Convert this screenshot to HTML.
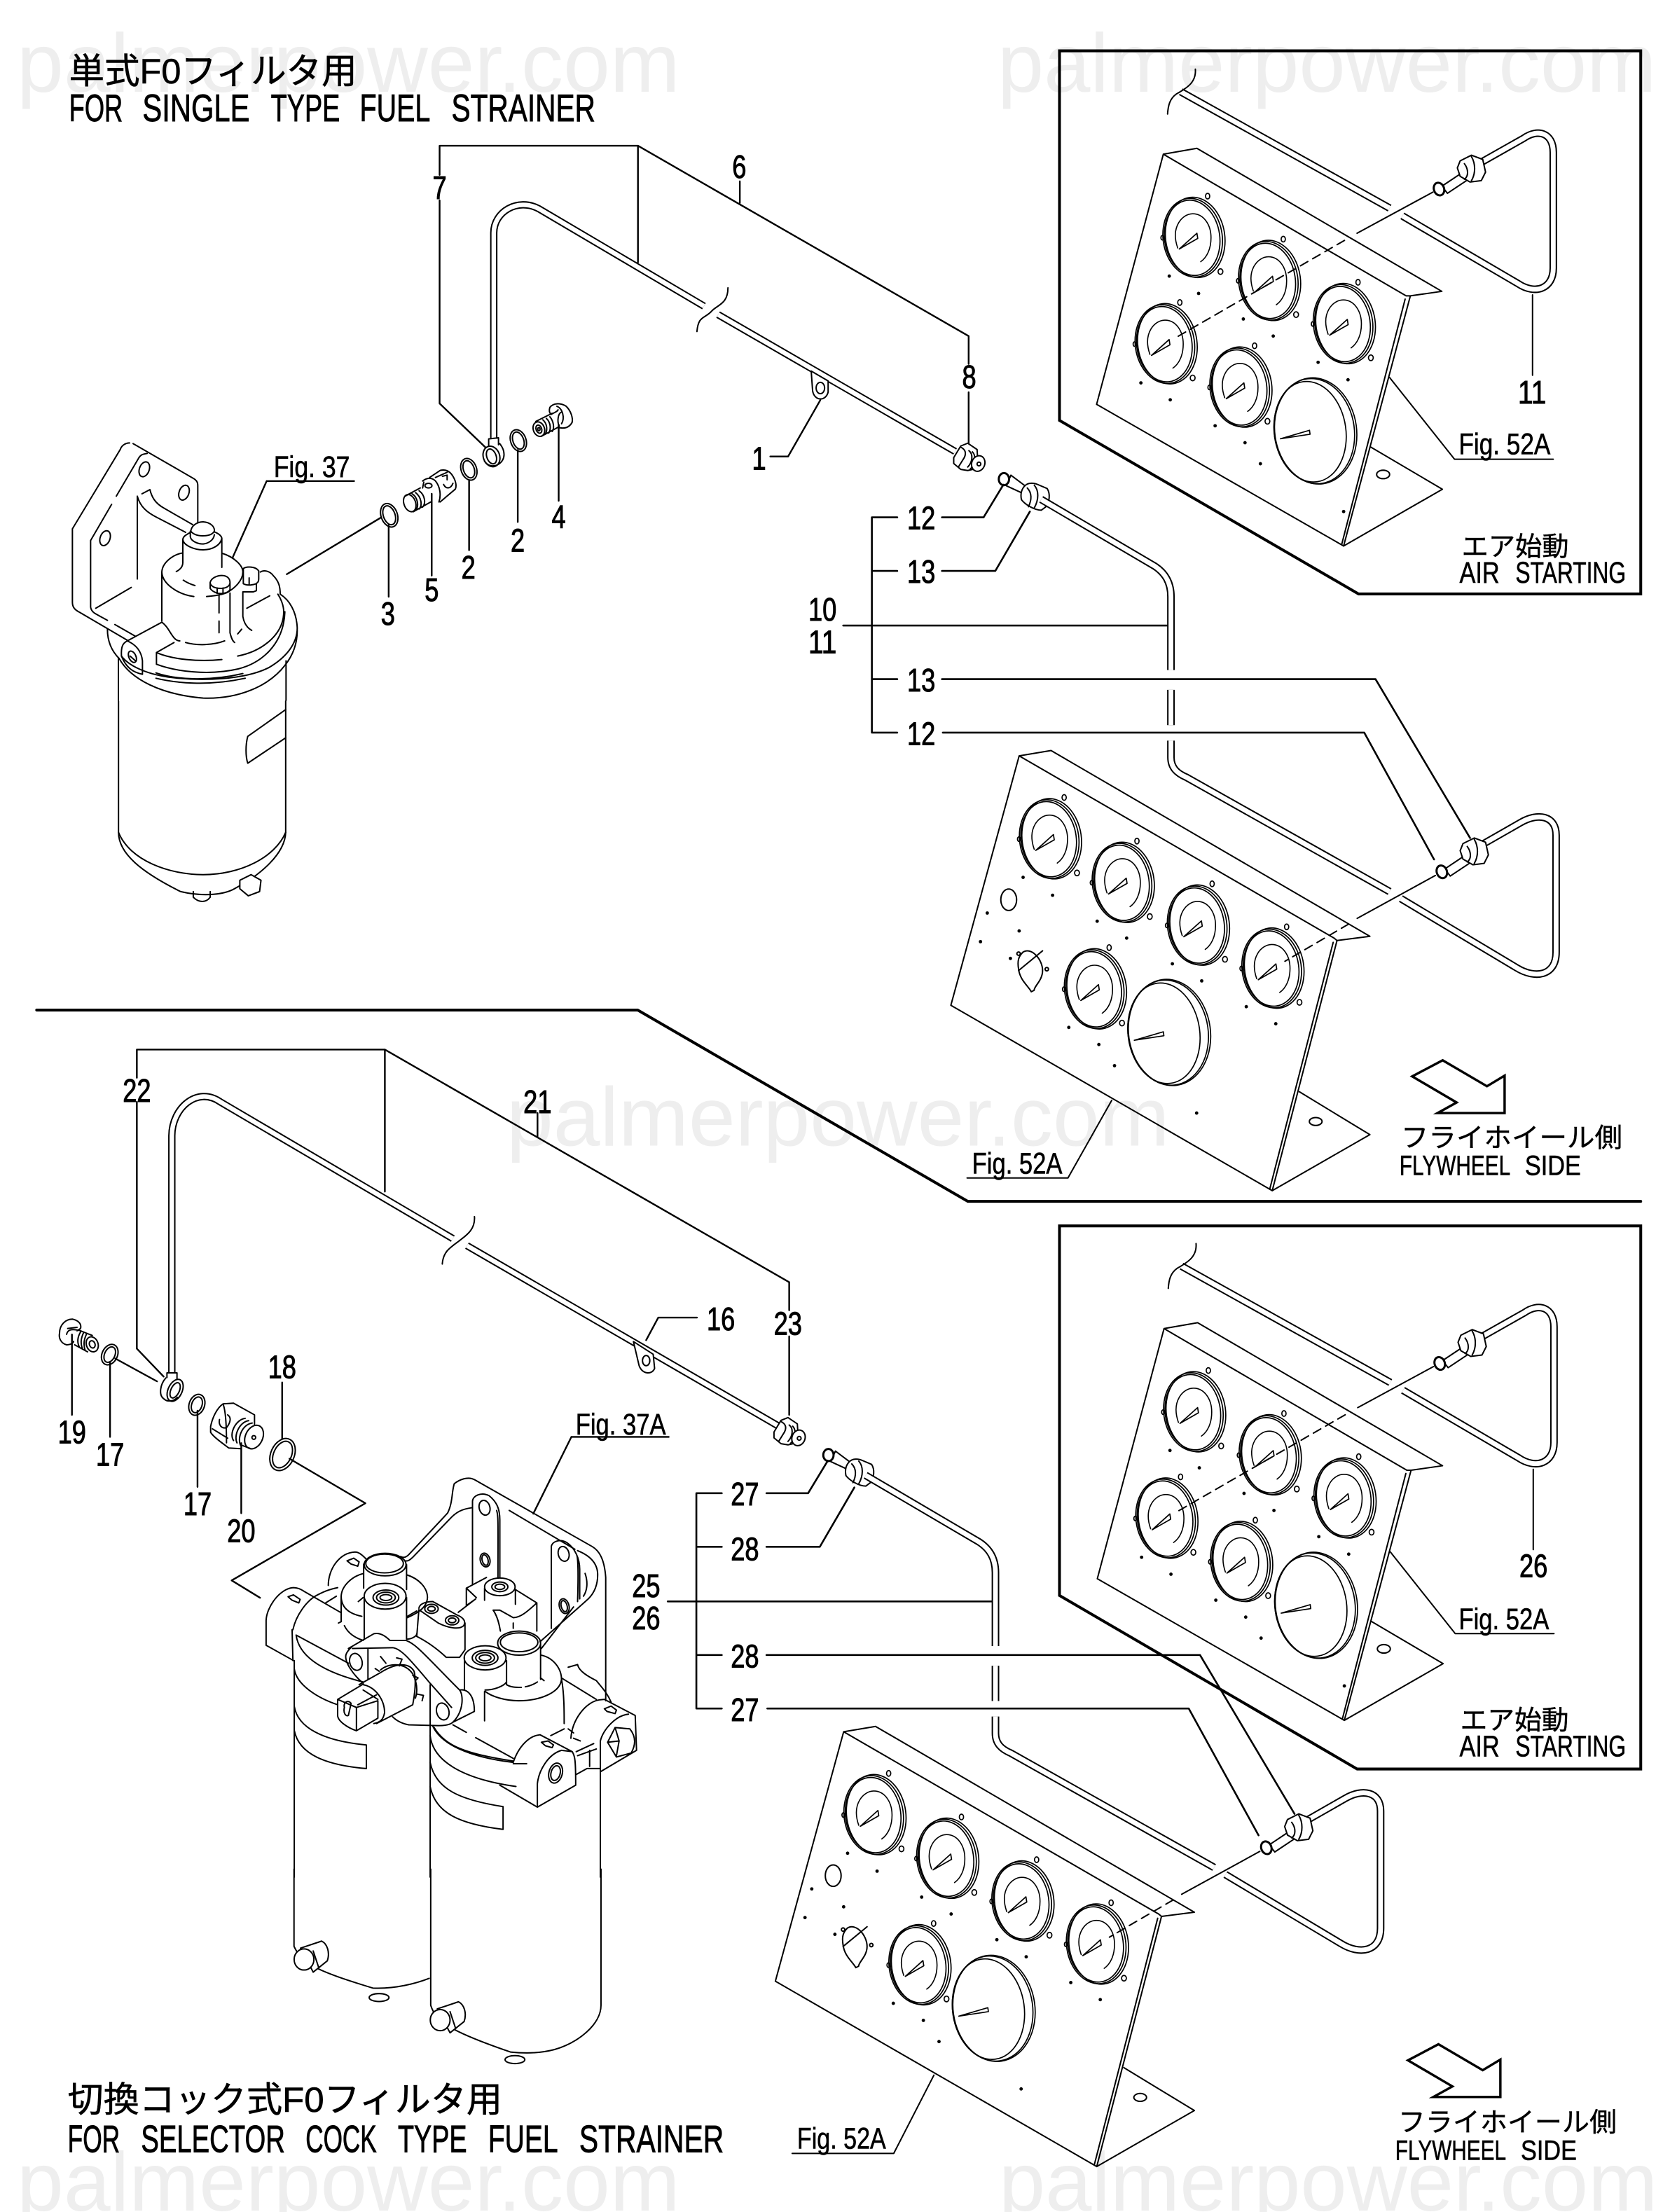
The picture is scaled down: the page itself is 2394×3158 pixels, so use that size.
<!DOCTYPE html>
<html><head><meta charset="utf-8"><title>Fuel strainer parts diagram</title>
<style>
html,body{margin:0;padding:0;background:#fff}
svg{display:block}
text{font-family:"Liberation Sans","Noto Sans CJK JP",sans-serif;fill:#000;stroke:#000;stroke-width:.25}
.n{font-size:23px;text-anchor:middle;stroke-width:.5}
.f{font-size:21px;stroke-width:.3}
.s{font-size:20px;stroke-width:.3}
.t{font-size:27px;stroke-width:.45}
.j{font-size:25px;stroke-width:.3}
.k{font-size:19px;stroke-width:.2}
.w{font-size:59px;fill:#eee;stroke:none}
.a{fill:none;stroke:#000;stroke-width:1;stroke-linejoin:round;stroke-linecap:round}
.h{fill:#fff}
.d{fill:#000;stroke:none}
</style></head><body>
<svg xmlns="http://www.w3.org/2000/svg" width="2394" height="3158" viewBox="0 0 1188.7 1568">
<rect width="1188.7" height="1568" fill="#fff"/>
<text class="w" x="12" y="65" textLength="470" lengthAdjust="spacingAndGlyphs">palmerpower.com</text>
<text class="w" x="707" y="65" textLength="467" lengthAdjust="spacingAndGlyphs">palmerpower.com</text>
<text class="w" x="359" y="812" textLength="470" lengthAdjust="spacingAndGlyphs">palmerpower.com</text>
<text class="w" x="12" y="1567" textLength="470" lengthAdjust="spacingAndGlyphs">palmerpower.com</text>
<text class="w" x="708" y="1567" textLength="467" lengthAdjust="spacingAndGlyphs">palmerpower.com</text>
<defs>
<g id="ga" fill="none" stroke-width=".85">
<ellipse cx="1.8" rx="21" ry="28.6" transform="rotate(-8)"/>
<ellipse rx="21" ry="28" transform="rotate(-8)"/>
<ellipse cx="-.4" rx="19.6" ry="26.8" transform="rotate(-8)"/>
<path d="M-10.6,7.3C-16,-8 -7,-17 0,-17C8,-17 13,-9 13,0C13,8 10,14 5.7,17" stroke-width=".8"/>
<polygon points="-9.5,8 3,-3.2 3.6,.5" fill="#fff"/>
<ellipse cx="10.6" cy="-29.5" rx="1.5" ry="2"/>
<ellipse cx="19.7" cy="24" rx="1.7" ry="2"/>
<ellipse cx="-21.5" cy="0" rx="1" ry="1.6"/>
</g>
<g id="gb" fill="none" stroke-width=".85">
<ellipse cx="1" rx="29" ry="37.8" transform="rotate(-8)"/>
<ellipse rx="28.4" ry="37.4" transform="rotate(-8)"/>
<ellipse cx="-3" rx="25.4" ry="35.8" transform="rotate(-8)"/>
<polygon points="-24,5.4 -3.4,-.6 -3,2.2" fill="#fff"/>
</g>
<g id="fit" stroke-width="6" transform="translate(660.3,302.9) scale(.1655)">
<path class="h" d="M95,130L125,80L155,68L195,95L200,175L155,185L125,180L95,155Z"/>
<path d="M125,85C145,95 150,110 140,130L115,170M160,100C180,115 175,150 155,170M175,105C190,120 190,155 165,180"/>
<ellipse class="h" cx="200" cy="155" rx="28" ry="34" transform="rotate(20 200 155)"/>
<circle cx="203" cy="157" r="8"/>
</g>
<g id="nut">
<path class="h" d="M-21,13L-6,3L-2,8L-17,18Z"/>
<ellipse cx="-23" cy="15" rx="3.6" ry="4.6" stroke-width="1.5" class="h" transform="rotate(-20 -23 15)"/>
<path class="h" d="M-8,-5L0,-9L8,-6L10,3L7,9L-1,10L-8,6L-10,0Z"/>
<path d="M-5,-3C-2,1 -2,6 -5,8M0,-8C3,-3 3,4 0,9"/>
</g>
<path id="tb1" fill="none" d="M350,311V165C350,150 367,140 382,148L499,217M509,223L677,320"/>
<path id="tb2" fill="none" d="M121.8,973V805C122,785 140,770 156,781L321,878M331,883L552,1011"/>
<path id="tbA" fill="none" d="M837,65L985,147.5M994,153L1076,201C1088,209 1101,205 1101,190V108C1101,94 1090,91 1080,98L1050,115"/>
<path id="tbB" fill="none" d="M738,354L818,401C826,406 830,413 830,423V475M830,489V514M830,525V537C830,544 834,548 841,551L985,632M993,637L1075,686C1088,694 1103,692 1103,675V592C1103,578 1090,576 1078,583L1050,599"/>
<g id="air" class="a">
<path d="M824.6,109.3L848.4,105.1L1022,206.5L999.7,209.7L996.7,209.7L824.6,109.3L777.3,286.6L952.4,387L999.7,209.7"/>
<path d="M971.3,316.7L1022.4,346.8L952.4,387M996,212L951,386" />
<ellipse cx="980.4" cy="336.3" rx="4.6" ry="3"/>
<use href="#ga" x="845.4" y="168.5"/><use href="#ga" x="899" y="199"/><use href="#ga" x="952" y="229.6"/><use href="#ga" x="825.7" y="243.9"/><use href="#ga" x="878.7" y="274.6"/><use href="#gb" x="931.6" y="305.6"/>
<g class="d"><circle cx="828.8" cy="195.7" r="1.2"/><circle cx="849.6" cy="208" r="1.2"/><circle cx="881.3" cy="226.1" r="1.2"/><circle cx="902.5" cy="238.2" r="1.2"/><circle cx="934.3" cy="256.8" r="1.2"/><circle cx="955.5" cy="269.2" r="1.2"/><circle cx="808.7" cy="271.4" r="1.2"/><circle cx="829.5" cy="283.4" r="1.2"/><circle cx="861.3" cy="301.8" r="1.2"/><circle cx="882.5" cy="313.8" r="1.2"/><circle cx="893.4" cy="328.7" r="1.2"/><circle cx="952.4" cy="362.6" r="1.2"/></g>
<use href="#tbA" stroke="#000" stroke-width="5.4" stroke-linecap="butt"/><use href="#tbA" stroke="#fff" stroke-width="3.4" stroke-linecap="butt"/>
<path d="M847.3,49C848,58 842,62 834,66.5C829,70 828,75 827.6,80.8"/>
<path d="M1015.6,136.2L961.9,165.3"/>
<path d="M953,170.4L834,239" stroke-dasharray="6,4"/>
<use href="#nut" x="1043" y="119"/>
<path d="M1086.3,209V266"/>
<path d="M985,267.6L1031,325.5H1101"/>
</g>
<g id="asm" class="a">
<path d="M722.4,535.8L745,532L971,663.7L947.7,666.7L945.7,665L722.4,535.8L674,712.6L901.8,844L947.7,666.7"/>
<path d="M921,773.9L971,804.3L901.8,844M945,668L900,843"/>
<ellipse cx="932.6" cy="795" rx="4.5" ry="2.8"/>
<use href="#ga" x="743.7" y="594.8"/><use href="#ga" x="795.3" y="625.7"/><use href="#ga" x="848.6" y="656"/><use href="#ga" x="901.4" y="686.5"/><use href="#ga" x="775.6" y="701.2"/><use href="#gb" x="828" y="732"/>
<ellipse cx="715" cy="637.8" rx="5.6" ry="7.6"/>
<path d="M725,675C731,671 739,680 739,688C739,695 733,699 733,702L731,703C729,699 723,695 722,687C721,681 722,678 725,675M722,688L739,674"/>
<circle cx="722" cy="676" r="1.2"/><circle cx="742" cy="687" r="1.2"/>
<g class="d"><circle cx="725.2" cy="621.9" r="1.2"/><circle cx="746.1" cy="634.6" r="1.2"/><circle cx="777.7" cy="653" r="1.2"/><circle cx="798.6" cy="665" r="1.2"/><circle cx="831" cy="683.2" r="1.2"/><circle cx="851.8" cy="695.3" r="1.2"/><circle cx="883.4" cy="713.6" r="1.2"/><circle cx="904.3" cy="725.7" r="1.2"/><circle cx="699.8" cy="647.2" r="1.2"/><circle cx="722.4" cy="659.9" r="1.2"/><circle cx="695" cy="667.5" r="1.2"/><circle cx="716.2" cy="679.4" r="1.2"/><circle cx="757.6" cy="728.3" r="1.2"/><circle cx="778.9" cy="740.4" r="1.2"/><circle cx="790" cy="755.4" r="1.2"/><circle cx="848.2" cy="789" r="1.2"/></g>
<g stroke-width="6" transform="translate(660.3,302.9) scale(.1655)">
<path class="h" d="M340,205L400,250L385,280L320,250Z"/>
<ellipse class="h" cx="310" cy="222" rx="22" ry="26" stroke-width="9"/>
<path class="h" d="M400,250C415,235 440,238 455,245L495,262C510,285 505,320 490,340L470,355C440,355 400,330 385,310C380,285 385,265 400,250Z"/>
<path d="M410,260C430,280 430,310 415,340M440,248C460,270 460,310 440,345"/>
</g>
<use href="#tbB" stroke="#000" stroke-width="5.4" stroke-linecap="butt"/><use href="#tbB" stroke="#fff" stroke-width="3.4" stroke-linecap="butt"/>
<path d="M1017.4,620.6L962,651"/>
<path d="M956,655L910.8,681.4" stroke-dasharray="6,4"/>
<use href="#nut" x="1045" y="603"/>
<g stroke-width="1.3">
<path d="M636,366.7H618V519.3H636M618,404.7H636M618,481.4H636"/>
<path d="M667.7,366.7H697.2L711.2,343.6M667.7,404.7H705.5L730,362.6"/>
<path d="M597.7,443.4H827.3"/>
<path d="M667.7,481.4H975L1042,594"/>
<path d="M668.3,519.3H967L1016.5,609.2"/>
</g>
</g>
<path id="arw" d="M1022.6,751.6L1054,770L1066.5,762.5V789H1019L1032.5,781.5L1001,763Z" fill="none" stroke="#000" stroke-width="1.7"/>
</defs>

<!-- frames -->
<g fill="none" stroke="#000" stroke-width="2" stroke-linejoin="miter">
<path d="M751,36H1163V421H963L751,298Z"/>
<path d="M751,869H1163V1254H962L751,1131Z"/>
<path d="M26,716H452L686,851.6H1163" stroke-linecap="round"/>
</g>
<use href="#air"/>
<use href="#air" transform="translate(.5,832.5)"/>
<use href="#asm"/>
<use href="#asm" transform="translate(-124.4,691.8)"/>
<use href="#arw"/>
<use href="#arw" transform="translate(-3,697.5)"/>

<!-- upper left assembly -->
<g class="a">
<use href="#tb1" stroke="#000" stroke-width="5.2" stroke-linecap="butt"/><use href="#tb1" stroke="#fff" stroke-width="3.2" stroke-linecap="butt"/>
<path d="M516,204C516,216 508,216 504,221C499,226 495,224 494,235"/>
<g stroke-width="1.2">
<path d="M311.6,124V103.3H452.2V186M344,317L311.6,286V142M452.2,103.3L686.6,238.2V258M686.6,278V318M524.4,128.5V144"/>
<path d="M275.5,372V423M306,350V408M332.5,341V390M367,319V370M396,301V355M203.3,407L269.8,367"/>
<path d="M581.4,283.7L558.6,323.6H546"/>
<path d="M189,341H251M189,341L165,395"/>
</g>
<path class="h" d="M575,263L587,270L587,278C585,285 577,284 576,277Z"/>
<ellipse cx="581.5" cy="275" rx="3" ry="4"/>
<use href="#fit"/>

<!-- hardware row, upper -->
<g stroke-width="6" transform="translate(248.25,268.1) scale(.1655)">
<ellipse cx="167" cy="587" rx="35" ry="52" transform="rotate(-20 167 587)"/><ellipse cx="167" cy="587" rx="25" ry="42" transform="rotate(-20 167 587)"/>
<ellipse cx="508" cy="390" rx="33" ry="48" transform="rotate(-20 508 390)"/><ellipse cx="508" cy="390" rx="23" ry="38" transform="rotate(-20 508 390)"/>
<ellipse cx="720" cy="267" rx="33" ry="48" transform="rotate(-20 720 267)"/><ellipse cx="720" cy="267" rx="23" ry="38" transform="rotate(-20 720 267)"/>
<path d="M593,290V260L635,255V285M640,280C665,310 665,345 640,365C620,380 590,380 575,355"/>
<ellipse cx="605" cy="335" rx="35" ry="45" transform="rotate(-20 605 335)"/><ellipse cx="605" cy="335" rx="20" ry="33" transform="rotate(-20 605 335)"/>
<path d="M795,185L865,150M820,248L890,210M825,178C845,195 845,225 835,240M840,172C860,190 860,220 850,235M855,165C872,185 875,215 865,228M860,155C880,145 890,140 890,135M895,205C885,185 890,150 905,145"/>
<ellipse cx="808" cy="218" rx="24" ry="32" transform="rotate(-20 808 218)"/><ellipse cx="808" cy="218" rx="12" ry="18" transform="rotate(-20 808 218)"/><ellipse cx="808" cy="218" rx="5" ry="7"/>
<path d="M855,125C870,105 900,105 925,120C945,140 955,170 950,190C935,215 915,215 895,212M855,125C850,140 855,150 860,155M885,120C910,130 920,170 905,195"/>
<ellipse cx="255" cy="535" rx="25" ry="38" transform="rotate(-20 255 535)"/>
<path d="M235,505L300,470M270,572L345,530M265,495C290,510 295,550 280,565M280,490C305,510 310,545 295,560M295,482C320,500 325,535 310,552M310,440C330,425 350,425 365,440C385,465 390,500 380,530M315,445L310,470M340,425L385,395C405,390 425,395 440,420C455,445 455,465 450,475L385,530M365,425L415,403M395,420L415,415V435M400,455C410,475 430,475 440,450"/>
<ellipse cx="335" cy="460" rx="15" ry="10"/>
</g>

<!-- single filter, traced -->
<g stroke-width="6" transform="translate(44.7,297.9) scale(.1655)">
<path d="M285,97C265,97 250,110 245,125L40,465V780C40,800 50,812 70,822L280,945M300,100L560,250C572,258 577,265 577,280V440"/>
<path d="M360,142C345,145 335,145 325,160L228,325M208,360L118,515V800C120,815 130,825 145,832L190,857M222,875L310,925"/>
<ellipse cx="348" cy="210" rx="21" ry="33" transform="rotate(20 348 210)"/><ellipse cx="518" cy="310" rx="21" ry="33" transform="rotate(20 518 310)"/><ellipse cx="180" cy="505" rx="21" ry="33" transform="rotate(20 180 505)"/>
<path d="M318,325C330,370 360,395 400,415L525,480M338,315L372,297C380,330 395,355 430,375L555,447M318,325V680M292,716L140,805"/>
<path d="M513,510V610C512,630 500,640 485,648M680,505V630M513,510C515,535 560,555 600,555C640,555 675,535 680,505M545,475V500C550,520 580,530 600,530C620,528 645,515 648,490M547,475C550,450 575,435 600,435C630,437 650,455 648,475C640,490 620,495 598,495C575,495 555,487 547,475M648,478C665,485 678,495 680,505M545,480C530,490 515,495 513,510"/>
<path d="M513,568C470,575 425,610 423,650C425,700 490,745 560,755M615,755C650,752 700,745 715,730M682,570C730,585 770,620 770,650C770,690 730,720 715,730M515,685C530,695 545,702 565,708M423,650V860M423,865L275,945M423,865C445,880 455,905 470,925C480,940 490,945 500,945M475,952L400,995V1045C480,1075 620,1095 750,1065C850,1040 945,960 950,820M400,995C470,1025 580,1035 680,1025M525,952C570,965 640,965 692,945M748,1010C850,990 945,920 945,820C945,790 930,760 920,745"/>
<path d="M630,695C635,675 660,665 680,665C705,665 715,680 715,695C715,710 700,720 675,720C650,720 630,710 630,695ZM630,695V720C640,735 660,742 675,742C695,742 710,735 715,725V695M660,718V742M685,718V742M668,745V825M668,860V910M715,740V910C720,930 725,945 735,952"/>
<path d="M772,635C785,625 825,625 838,645V680C838,690 835,695 826,700M772,635V700C790,710 815,705 828,700V730L815,735H775L770,735V840C775,870 790,890 808,900M797,675V705M787,805L885,752M748,915L765,895"/>
<path d="M845,650C860,640 885,645 900,665C925,690 930,715 930,745C970,770 1000,820 1003,890C1003,960 950,1020 880,1060C780,1110 600,1120 450,1100C350,1085 280,1050 250,1010M240,1020C290,1110 420,1175 600,1190C750,1195 880,1140 950,1050C990,1000 1003,950 1003,900M398,1082C480,1110 620,1120 770,1085M398,1105C480,1125 620,1140 780,1105M190,895C190,950 210,990 240,1020"/>
<path d="M237,1020V1200M955,1030V1200"/>
<path d="M275,945C255,955 248,970 250,1010C270,1060 300,1080 340,1088V1030C335,985 310,960 275,945Z"/>
<ellipse cx="297" cy="1013" rx="15" ry="26" transform="rotate(-25 297 1013)"/>
<path d="M287,1010L310,1030"/>
</g>
<path d="M84,497V590C84,605 100,618 128,632C145,636 160,634 167,629.5C185,620 202,605 202.5,590V497"/>
<path d="M84,590C92,610 120,620 144,620C170,620 195,608 202.5,590"/>
<path d="M175.6,522L202.5,503M175.6,522C174,528 174,536 175.6,541L202.5,523"/>
<path class="h" d="M170,624L178,620L185,624L184,632L176,635L170,630Z"/>
<path d="M137,632V636C141,640 146,640 149,636V632"/>
</g>

<!-- lower left assembly -->
<g class="a">
<use href="#tb2" stroke="#000" stroke-width="5.2" stroke-linecap="butt"/><use href="#tb2" stroke="#fff" stroke-width="3.2" stroke-linecap="butt"/>
<path d="M336.3,862.4C337,872 330,876 325,880C318,885 314,888 313.5,896"/>
<g stroke-width="1.2">
<path d="M97,956V781M97,764V744H272.8V844.7M97,956L116,975.8M272.8,744L559.4,908.9V928.8M559.4,947.3V1003M381,789V806.3"/>
<path d="M458,950L466.6,934H494"/>
<path d="M51,946V1003M78,966V1018.6M140,1000V1054M171,1023V1072.7M200,980V1020M81.7,963L111.3,979.2"/>
<path d="M205.2,1034L259,1065.6L164.2,1120.3L184.3,1132.6"/>
<path d="M405,1018.6H474M405,1018.6L378,1073"/>
</g>
<path class="h" d="M449,951L463,960L464,970C462,975 455,974 453,968Z"/>
<ellipse cx="458" cy="964.5" rx="2.6" ry="3.6"/>
<use href="#fit" transform="translate(-127.4,690.7)"/>

<!-- hardware row, lower -->
<g stroke-width="6" transform="translate(29.8,923.5) scale(.1655)">
<path d="M75,130C75,95 100,70 130,70C155,75 170,90 165,110L150,120M75,130C70,155 85,175 105,180C125,180 135,170 135,165M110,110L150,105M105,135C110,115 125,110 165,120M160,118L215,140M140,180L195,210M165,125C150,150 150,170 160,190M178,128C165,155 165,175 173,197M190,135C178,160 178,185 185,205"/>
<ellipse cx="215" cy="178" rx="25" ry="33" transform="rotate(-20 215 178)"/><ellipse cx="215" cy="178" rx="12" ry="16" transform="rotate(-20 215 178)"/>
<ellipse cx="290" cy="222" rx="33" ry="46" transform="rotate(25 290 222)"/><ellipse cx="290" cy="222" rx="22" ry="35" transform="rotate(25 290 222)"/>
<ellipse cx="663" cy="437" rx="33" ry="46" transform="rotate(20 663 437)"/><ellipse cx="663" cy="437" rx="22" ry="35" transform="rotate(20 663 437)"/>
<path d="M535,320V300H578V325M530,322C505,350 500,395 520,410C535,425 560,425 580,405"/>
<ellipse cx="570" cy="375" rx="30" ry="50" transform="rotate(25 570 375)"/><ellipse cx="570" cy="375" rx="18" ry="35" transform="rotate(25 570 375)"/>
<ellipse cx="1030" cy="650" rx="50" ry="72" transform="rotate(25 1030 650)"/><ellipse cx="1030" cy="650" rx="38" ry="60" transform="rotate(25 1030 650)"/>
<path d="M722,530C730,490 750,450 775,433L820,430L910,480V520M722,530V555C735,575 770,600 800,622L850,625M775,433C790,470 790,560 790,600M795,480C810,490 810,510 790,535C770,540 755,525 760,500M730,540L795,580M820,590C800,560 830,500 870,495M835,600C820,570 845,510 885,505M850,610C835,575 860,520 900,515M855,610L895,625"/>
<ellipse cx="908" cy="575" rx="37" ry="53" transform="rotate(25 908 575)"/><circle cx="907" cy="577" r="8"/>
</g>

<!-- dual filter lower parts -->
<path d="M208.4,1325V1379.7C214,1392 224,1397 264.3,1409.3C280,1410 295,1406 304.2,1402.4"/>
<path d="M305.3,1325V1421.5C309,1433 319,1440 361.8,1454.6C375,1456 385,1455 392.9,1452.9C410,1448 426,1435 426,1421.5V1325"/>
<ellipse class="h" cx="268.7" cy="1416" rx="7" ry="2.8"/><ellipse class="h" cx="365" cy="1460" rx="7" ry="2.8"/>
<path class="h" d="M213,1381L228,1376C232,1378 234,1384 232,1390L222,1398Z"/>
<ellipse class="h" cx="215.5" cy="1389" rx="7" ry="7.5"/><path d="M222,1383L226,1395"/>
<path class="h" d="M310,1424L325,1419C329,1421 331,1427 329,1433L319,1441Z"/>
<ellipse class="h" cx="312" cy="1432" rx="7" ry="7.5"/><path d="M319,1426L323,1438"/>

<!-- dual filter head, traced -->
<g stroke-width="5.2" transform="translate(173.8,1032.7) scale(.19)">
<path d="M1345,450C1340,380 1320,350 1295,335L855,85C830,72 800,85 780,100C770,130 775,170 755,210L610,365C600,375 590,378 580,372M1345,450V910"/>
<path d="M985,200L1230,345M1240,350C1290,370 1315,400 1315,440C1315,480 1300,510 1280,530L1100,690M845,190C810,195 790,205 770,225L625,375C615,385 605,390 600,388M1268,435C1280,470 1275,500 1262,520M1225,560L1105,715"/>
<path d="M848,475V165C850,145 880,130 910,145C935,165 950,190 950,235V450M938,200C945,220 943,250 943,450"/>
<ellipse cx="893" cy="190" rx="20" ry="28" transform="rotate(-15 893 190)"/>
<ellipse cx="895" cy="385" rx="18" ry="26" transform="rotate(-15 895 385)"/><ellipse cx="895" cy="385" rx="11" ry="20" transform="rotate(-15 895 385)"/>
<path d="M1142,640V335C1145,315 1175,305 1200,320C1230,340 1248,380 1248,420V530M1238,370C1245,400 1240,540 1240,540"/>
<ellipse cx="1188" cy="362" rx="20" ry="28" transform="rotate(-15 1188 362)"/>
<ellipse cx="1190" cy="557" rx="18" ry="28" transform="rotate(-15 1190 557)"/><ellipse cx="1190" cy="557" rx="11" ry="21" transform="rotate(-15 1190 557)"/>

<ellipse cx="522" cy="402" rx="78" ry="42"/><ellipse cx="520" cy="398" rx="70" ry="35"/>
<path d="M442,400V490M602,402V495M442,435C400,445 360,480 358,520C358,560 385,585 435,595M602,440C650,455 680,490 680,525C678,560 650,580 605,600M358,520V615L348,620M370,630C385,660 410,675 440,685M422,540L440,525"/>
<ellipse cx="522" cy="520" rx="78" ry="48"/><ellipse cx="525" cy="525" rx="48" ry="28"/><ellipse cx="525" cy="525" rx="35" ry="20"/><ellipse cx="525" cy="525" rx="22" ry="11"/>
<path d="M444,525V680M602,525V680"/>
<path d="M310,480C310,420 350,358 410,355C425,355 440,370 450,380M380,388L405,378L425,392L420,408L395,400Z"/>
<path d="M180,760L78,703V610C80,560 130,490 180,488C195,488 210,495 220,502L355,580M160,522L180,515L205,532L200,545L175,535Z"/>
<path d="M178,645C190,590 230,535 270,515C290,505 310,495 345,488M300,545L340,520"/>
<path d="M175,645L178,760M183,760V1568M190,665C200,740 280,800 440,840M190,665L385,770M183,790C190,850 270,900 345,925M183,930C195,1010 290,1060 452,1075V1163C300,1150 200,1110 183,1020"/>

<path d="M648,565C650,550 670,540 700,540L790,590C815,600 825,615 815,630C800,645 760,640 720,620L655,575M648,570L640,670M820,620V720M640,670C680,690 720,720 750,748H800L820,720M605,595L640,575M605,680C620,680 640,670 640,660"/>
<ellipse cx="695" cy="567" rx="25" ry="17"/><ellipse cx="695" cy="567" rx="14" ry="9"/><ellipse cx="772" cy="610" rx="25" ry="17"/><ellipse cx="772" cy="610" rx="14" ry="9"/>
<path d="M825,490L900,450M825,490V555L860,530L795,580M825,490L862,525M893,490V535M1008,495V550M1008,495L1088,545V650M1088,545C1060,570 1030,600 1000,600L950,572L925,572C945,600 950,640 952,650M1000,620V640"/>
<ellipse cx="950" cy="485" rx="57" ry="33"/><ellipse cx="950" cy="485" rx="30" ry="18"/><ellipse cx="950" cy="485" rx="18" ry="10"/>
<ellipse cx="1022" cy="695" rx="80" ry="45"/><ellipse cx="1022" cy="692" rx="70" ry="35"/>
<path d="M975,760V850M1102,700V830"/>
<ellipse cx="895" cy="750" rx="78" ry="45"/><ellipse cx="895" cy="750" rx="48" ry="28"/><ellipse cx="895" cy="750" rx="35" ry="20"/><ellipse cx="895" cy="750" rx="22" ry="11"/>
<path d="M818,750V870"/>
<path d="M1105,740C1150,750 1180,790 1180,830C1175,880 1100,910 1020,910C970,910 920,895 895,875M895,870C930,870 965,855 975,840M975,850C990,860 1010,860 1030,860M1045,858C1060,855 1075,850 1090,840M1102,825L1115,835M893,875V985M1180,830C1190,880 1190,950 1190,995M1180,825L1310,905M1205,785L1240,775C1245,800 1280,820 1310,835C1330,860 1350,880 1365,915"/>

<path d="M375,745C375,720 420,695 385,715L480,660C500,655 520,665 540,685L600,685C640,700 670,740 800,870C815,890 815,950 775,990C765,1000 745,1003 720,1003L610,1000C585,995 565,985 550,970M375,745C375,770 400,810 440,845M400,715L550,712C580,715 610,750 690,845L770,935M458,715V830"/>
<ellipse cx="413" cy="765" rx="23" ry="32" transform="rotate(-15 413 765)"/><ellipse cx="737" cy="950" rx="23" ry="32" transform="rotate(-15 737 950)"/>
<path d="M800,870C830,865 855,890 855,950L775,990M690,850V1568"/>
<path d="M425,850L505,805C560,770 610,765 630,800C640,840 630,900 625,925L490,995M440,850C490,860 520,910 520,955C515,980 505,990 480,995"/>
<path d="M345,905L440,848M345,905V965C345,985 380,1010 415,1022L495,975V910L415,935V1020M415,935L345,905M495,905L440,870M420,925L490,888M370,935C365,915 385,905 395,920L385,965C375,970 365,955 370,935Z"/>
<path d="M505,745L525,770M565,750L585,755L575,780M625,815L645,825L635,835M640,885L665,890L660,910M485,790L500,800M505,795C540,765 600,770 625,810C640,840 645,870 635,900"/>

<path d="M700,1005C730,1070 830,1120 1000,1140M705,1010C745,1080 830,1110 1000,1135M775,1000L825,1028M860,1048L1000,1125M690,1040C700,1130 800,1200 1010,1230M690,1140C710,1240 800,1280 962,1305V1390C800,1370 710,1330 690,1230"/>
<path d="M1000,1140C1020,1080 1060,1040 1100,1037L1220,1100C1230,1115 1233,1130 1233,1225L1090,1307V1220C1095,1170 1130,1110 1180,1095L1220,1100M1000,1145H1050M950,1225L1090,1307M1105,1065L1130,1060L1150,1075L1145,1085L1120,1078Z"/>
<ellipse cx="1158" cy="1180" rx="25" ry="38" transform="rotate(15 1158 1180)"/><ellipse cx="1158" cy="1180" rx="17" ry="28" transform="rotate(15 1158 1180)"/>
<path d="M1215,1050C1220,980 1270,915 1320,907L1340,905L1455,965L1460,1095L1325,1175V1060C1335,1020 1380,965 1430,960M1340,940L1365,930L1385,945L1380,958L1350,950ZM1352,1065L1380,1010L1435,1015C1455,1040 1460,1070 1440,1105L1385,1120ZM1380,1010L1395,1060L1385,1115M1352,1065L1395,1060"/>
<path d="M1235,1100L1300,1070M1240,1115L1310,1090M1285,1095V1155M1235,1185L1275,1163H1325M1205,1015L1225,1030M1225,1050L1250,1060M1190,1015L1140,1040M1325,1175V1568"/>
</g>
</g>

<!-- numbers -->
<g>
<text class="n" x="524" y="126" textLength="10" lengthAdjust="spacingAndGlyphs">6</text>
<text class="n" x="311.6" y="141" textLength="10" lengthAdjust="spacingAndGlyphs">7</text>
<text class="n" x="687" y="275" textLength="10" lengthAdjust="spacingAndGlyphs">8</text>
<text class="n" x="538" y="333" textLength="10" lengthAdjust="spacingAndGlyphs">1</text>
<text class="n" x="1086" y="286" textLength="20" lengthAdjust="spacingAndGlyphs">11</text>
<text class="n" x="275" y="443" textLength="10" lengthAdjust="spacingAndGlyphs">3</text>
<text class="n" x="306" y="426" textLength="10" lengthAdjust="spacingAndGlyphs">5</text>
<text class="n" x="332" y="410" textLength="10" lengthAdjust="spacingAndGlyphs">2</text>
<text class="n" x="367" y="391" textLength="10" lengthAdjust="spacingAndGlyphs">2</text>
<text class="n" x="396" y="374" textLength="10" lengthAdjust="spacingAndGlyphs">4</text>
<text class="n" x="583" y="440" textLength="20" lengthAdjust="spacingAndGlyphs">10</text>
<text class="n" x="583" y="463" textLength="20" lengthAdjust="spacingAndGlyphs">11</text>
<text class="n" x="653" y="375" textLength="20" lengthAdjust="spacingAndGlyphs">12</text>
<text class="n" x="653" y="413" textLength="20" lengthAdjust="spacingAndGlyphs">13</text>
<text class="n" x="653" y="490" textLength="20" lengthAdjust="spacingAndGlyphs">13</text>
<text class="n" x="653" y="528" textLength="20" lengthAdjust="spacingAndGlyphs">12</text>
<text class="n" x="97" y="781" textLength="20" lengthAdjust="spacingAndGlyphs">22</text>
<text class="n" x="381" y="789" textLength="20" lengthAdjust="spacingAndGlyphs">21</text>
<text class="n" x="558.5" y="946" textLength="20" lengthAdjust="spacingAndGlyphs">23</text>
<text class="n" x="511" y="943" textLength="20" lengthAdjust="spacingAndGlyphs">16</text>
<text class="n" x="200" y="977" textLength="20" lengthAdjust="spacingAndGlyphs">18</text>
<text class="n" x="51" y="1023" textLength="20" lengthAdjust="spacingAndGlyphs">19</text>
<text class="n" x="78" y="1039" textLength="20" lengthAdjust="spacingAndGlyphs">17</text>
<text class="n" x="140" y="1074" textLength="20" lengthAdjust="spacingAndGlyphs">17</text>
<text class="n" x="171" y="1093" textLength="20" lengthAdjust="spacingAndGlyphs">20</text>
<text class="n" x="528" y="1067" textLength="20" lengthAdjust="spacingAndGlyphs">27</text>
<text class="n" x="528" y="1106" textLength="20" lengthAdjust="spacingAndGlyphs">28</text>
<text class="n" x="458" y="1132" textLength="20" lengthAdjust="spacingAndGlyphs">25</text>
<text class="n" x="458" y="1155" textLength="20" lengthAdjust="spacingAndGlyphs">26</text>
<text class="n" x="528" y="1182" textLength="20" lengthAdjust="spacingAndGlyphs">28</text>
<text class="n" x="528" y="1220" textLength="20" lengthAdjust="spacingAndGlyphs">27</text>
<text class="n" x="1087" y="1118" textLength="20" lengthAdjust="spacingAndGlyphs">26</text>
</g>

<!-- labels -->
<text class="f" x="194" y="338" textLength="54" lengthAdjust="spacingAndGlyphs">Fig. 37</text>
<text class="f" x="1034" y="322" textLength="65" lengthAdjust="spacingAndGlyphs">Fig. 52A</text>
<text class="f" x="689" y="832" textLength="64" lengthAdjust="spacingAndGlyphs">Fig. 52A</text>
<text class="f" x="1034" y="1155" textLength="64" lengthAdjust="spacingAndGlyphs">Fig. 52A</text>
<text class="f" x="408" y="1017" textLength="64" lengthAdjust="spacingAndGlyphs">Fig. 37A</text>
<text class="f" x="565" y="1523" textLength="63" lengthAdjust="spacingAndGlyphs">Fig. 52A</text>
<g class="a" stroke-width="1.2">
<path d="M685.5,835H757M757,835L788,780" />
<path d="M561.5,1526.5H633.5L662,1471"/>
</g>
<g class="t">
<text class="t" x="49" y="86" textLength="38" lengthAdjust="spacingAndGlyphs">FOR</text>
<text class="t" x="101" y="86" textLength="76" lengthAdjust="spacingAndGlyphs">SINGLE</text>
<text class="t" x="192" y="86" textLength="49" lengthAdjust="spacingAndGlyphs">TYPE</text>
<text class="t" x="255" y="86" textLength="50" lengthAdjust="spacingAndGlyphs">FUEL</text>
<text class="t" x="320" y="86" textLength="102" lengthAdjust="spacingAndGlyphs">STRAINER</text>
<text class="t" x="48" y="1525.5" textLength="37" lengthAdjust="spacingAndGlyphs">FOR</text>
<text class="t" x="100" y="1525.5" textLength="102" lengthAdjust="spacingAndGlyphs">SELECTOR</text>
<text class="t" x="216.6" y="1525.5" textLength="50.4" lengthAdjust="spacingAndGlyphs">COCK</text>
<text class="t" x="282" y="1525.5" textLength="49" lengthAdjust="spacingAndGlyphs">TYPE</text>
<text class="t" x="346" y="1525.5" textLength="49.5" lengthAdjust="spacingAndGlyphs">FUEL</text>
<text class="t" x="410.6" y="1525.5" textLength="102.4" lengthAdjust="spacingAndGlyphs">STRAINER</text>
</g>
<text class="j" x="49" y="59" textLength="204" lengthAdjust="spacingAndGlyphs">単式F0フィルタ用</text>
<text class="j" x="48" y="1497" textLength="308" lengthAdjust="spacingAndGlyphs">切換コック式F0フィルタ用</text>
<text class="k" x="1036" y="394" textLength="76" lengthAdjust="spacingAndGlyphs">エア始動</text>
<text class="f" x="1034.5" y="413" textLength="28.4" lengthAdjust="spacingAndGlyphs">AIR</text>
<text class="f" x="1074.2" y="413" textLength="78.3" lengthAdjust="spacingAndGlyphs">STARTING</text>
<text class="k" x="1035" y="1226" textLength="77" lengthAdjust="spacingAndGlyphs">エア始動</text>
<text class="f" x="1034.5" y="1245" textLength="28.4" lengthAdjust="spacingAndGlyphs">AIR</text>
<text class="f" x="1074.2" y="1245" textLength="78.3" lengthAdjust="spacingAndGlyphs">STARTING</text>
<text class="k" x="993" y="813" textLength="157" lengthAdjust="spacingAndGlyphs">フライホイール側</text>
<text class="s" x="992" y="833" textLength="78.6" lengthAdjust="spacingAndGlyphs">FLYWHEEL</text>
<text class="s" x="1080.9" y="833" textLength="39.7" lengthAdjust="spacingAndGlyphs">SIDE</text>
<text class="k" x="991" y="1511" textLength="155" lengthAdjust="spacingAndGlyphs">フライホイール側</text>
<text class="s" x="989" y="1531" textLength="78.6" lengthAdjust="spacingAndGlyphs">FLYWHEEL</text>
<text class="s" x="1078" y="1531" textLength="39.7" lengthAdjust="spacingAndGlyphs">SIDE</text>
</svg>
</body></html>
